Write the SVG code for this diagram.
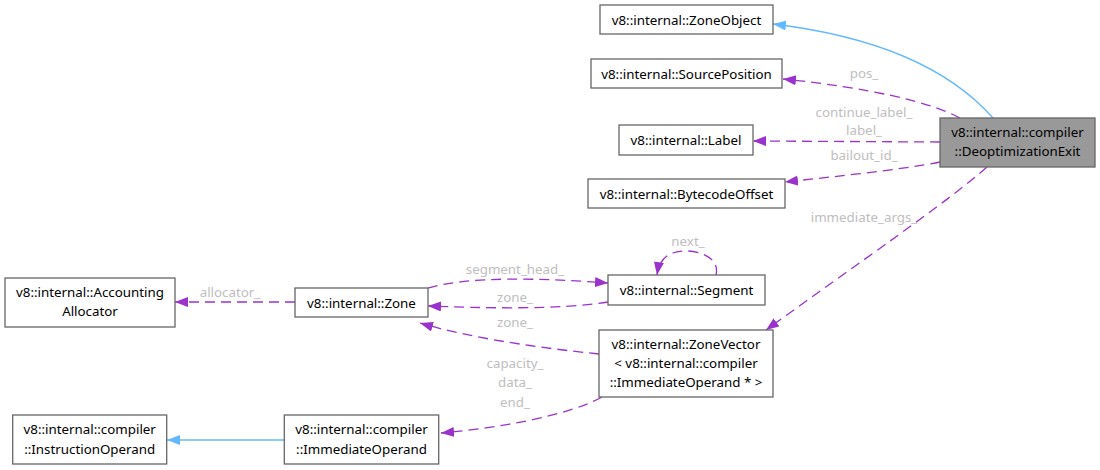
<svg xmlns="http://www.w3.org/2000/svg" width="1100" height="470" viewBox="0 0 1100 470">
<defs>
<style>
.box{fill:#ffffff;stroke:#666666;stroke-width:1.3}
.sel{fill:#999999;stroke:#666666;stroke-width:1.3}
.nt{font-family:"Noto Sans","DejaVu Sans",sans-serif;font-size:13.33px;fill:#000000;text-anchor:middle}
.el{font-family:"Noto Sans","DejaVu Sans",sans-serif;font-size:13.33px;fill:#bebebe;text-anchor:middle}
.pu{fill:none;stroke:#9a32cd;stroke-width:1.3;stroke-dasharray:10,6}
.bl{fill:none;stroke:#63b8ff;stroke-width:1.3}
</style>
<marker id="ap" markerUnits="userSpaceOnUse" markerWidth="14" markerHeight="11" refX="13" refY="5" orient="auto">
<path d="M0,0 L13,5 L0,10 Z" fill="#9a32cd" stroke="none"/>
</marker>
<marker id="ab" markerUnits="userSpaceOnUse" markerWidth="14" markerHeight="11" refX="13" refY="5" orient="auto">
<path d="M0,0 L13,5 L0,10 Z" fill="#63b8ff" stroke="none"/>
</marker>
</defs>
<rect width="1100" height="470" fill="#ffffff"/>
<g id="connectors">
<path class="bl" d="M993,118 C955,75 890,38 773,24" marker-end="url(#ab)"/>
<path class="pu" d="M960,118 C930,102 870,88 783,79" marker-end="url(#ap)"/>
<path class="pu" d="M940,142 L753,141" marker-end="url(#ap)"/>
<path class="pu" d="M940,162 C900,170 830,177 785,182" marker-end="url(#ap)"/>
<path class="pu" d="M987,167 C950,200 860,262 766,330" marker-end="url(#ap)"/>
<path class="pu" d="M295,302 L175,302" marker-end="url(#ap)"/>
<path class="pu" d="M428,288 C470,276 540,278 608,283" marker-end="url(#ap)"/>
<path class="pu" d="M608,302 C560,310 480,308 428,306" marker-end="url(#ap)"/>
<path class="pu" d="M599,354 C540,348 470,338 420,323" marker-end="url(#ap)"/>
<path class="pu" d="M602,397 C570,415 500,428 441,433" marker-end="url(#ap)"/>
<path class="pu" d="M716,275 C720,258 700,251 687,251 C672,251 660,255 657,275" marker-end="url(#ap)"/>
<path class="bl" d="M284,440 L167,440" marker-end="url(#ab)"/>
<text class="el" x="864" y="77.5">pos_</text>
<text class="el" x="864" y="116.5">continue_label_</text>
<text class="el" x="864" y="134.5">label_</text>
<text class="el" x="864" y="159.5">bailout_id_</text>
<text class="el" x="864" y="221.5">immediate_args_</text>
<text class="el" x="230" y="296.5">allocator_</text>
<text class="el" x="515" y="273.5">segment_head_</text>
<text class="el" x="515" y="301.5">zone_</text>
<text class="el" x="515" y="326.5">zone_</text>
<text class="el" x="515" y="367.5">capacity_</text>
<text class="el" x="515" y="387">data_</text>
<text class="el" x="515" y="406.5">end_</text>
<text class="el" x="688" y="246">next_</text>
</g>
<g id="ZoneObject">
<rect class="box" x="600" y="5" width="173" height="29"/>
<text class="nt" x="686.5" y="24.5">v8::internal::ZoneObject</text>
</g>
<g id="SourcePosition">
<rect class="box" x="591" y="59" width="191" height="29"/>
<text class="nt" x="686.5" y="78.5">v8::internal::SourcePosition</text>
</g>
<g id="Label">
<rect class="box" x="619" y="125" width="134" height="30"/>
<text class="nt" x="686" y="145">v8::internal::Label</text>
</g>
<g id="BytecodeOffset">
<rect class="box" x="588" y="179" width="197" height="29"/>
<text class="nt" x="686.5" y="198.5">v8::internal::BytecodeOffset</text>
</g>
<g id="DeoptimizationExit">
<rect class="sel" x="940" y="118" width="155" height="49"/>
<text class="nt" x="1017.5" y="137.3">v8::internal::compiler</text>
<text class="nt" x="1017.5" y="155.7">::DeoptimizationExit</text>
</g>
<g id="AccountingAllocator">
<rect class="box" x="5" y="278" width="170" height="49"/>
<text class="nt" x="90" y="297.3">v8::internal::Accounting</text>
<text class="nt" x="90" y="316">Allocator</text>
</g>
<g id="Zone">
<rect class="box" x="295" y="288" width="133" height="29"/>
<text class="nt" x="361.5" y="307.5">v8::internal::Zone</text>
</g>
<g id="Segment">
<rect class="box" x="608" y="275" width="157" height="30"/>
<text class="nt" x="686.5" y="295">v8::internal::Segment</text>
</g>
<g id="ZoneVector">
<rect class="box" x="599" y="330" width="174" height="67"/>
<text class="nt" x="686" y="349">v8::internal::ZoneVector</text>
<text class="nt" x="686" y="368.3">&lt; v8::internal::compiler</text>
<text class="nt" x="686" y="387.3">::ImmediateOperand * &gt;</text>
</g>
<g id="InstructionOperand">
<rect class="box" x="12.7" y="415" width="154" height="49"/>
<text class="nt" x="89.7" y="434.3">v8::internal::compiler</text>
<text class="nt" x="89.7" y="453.7">::InstructionOperand</text>
</g>
<g id="ImmediateOperand">
<rect class="box" x="284.3" y="415" width="154.4" height="49"/>
<text class="nt" x="361.5" y="434.3">v8::internal::compiler</text>
<text class="nt" x="361.5" y="453.7">::ImmediateOperand</text>
</g>
</svg>
